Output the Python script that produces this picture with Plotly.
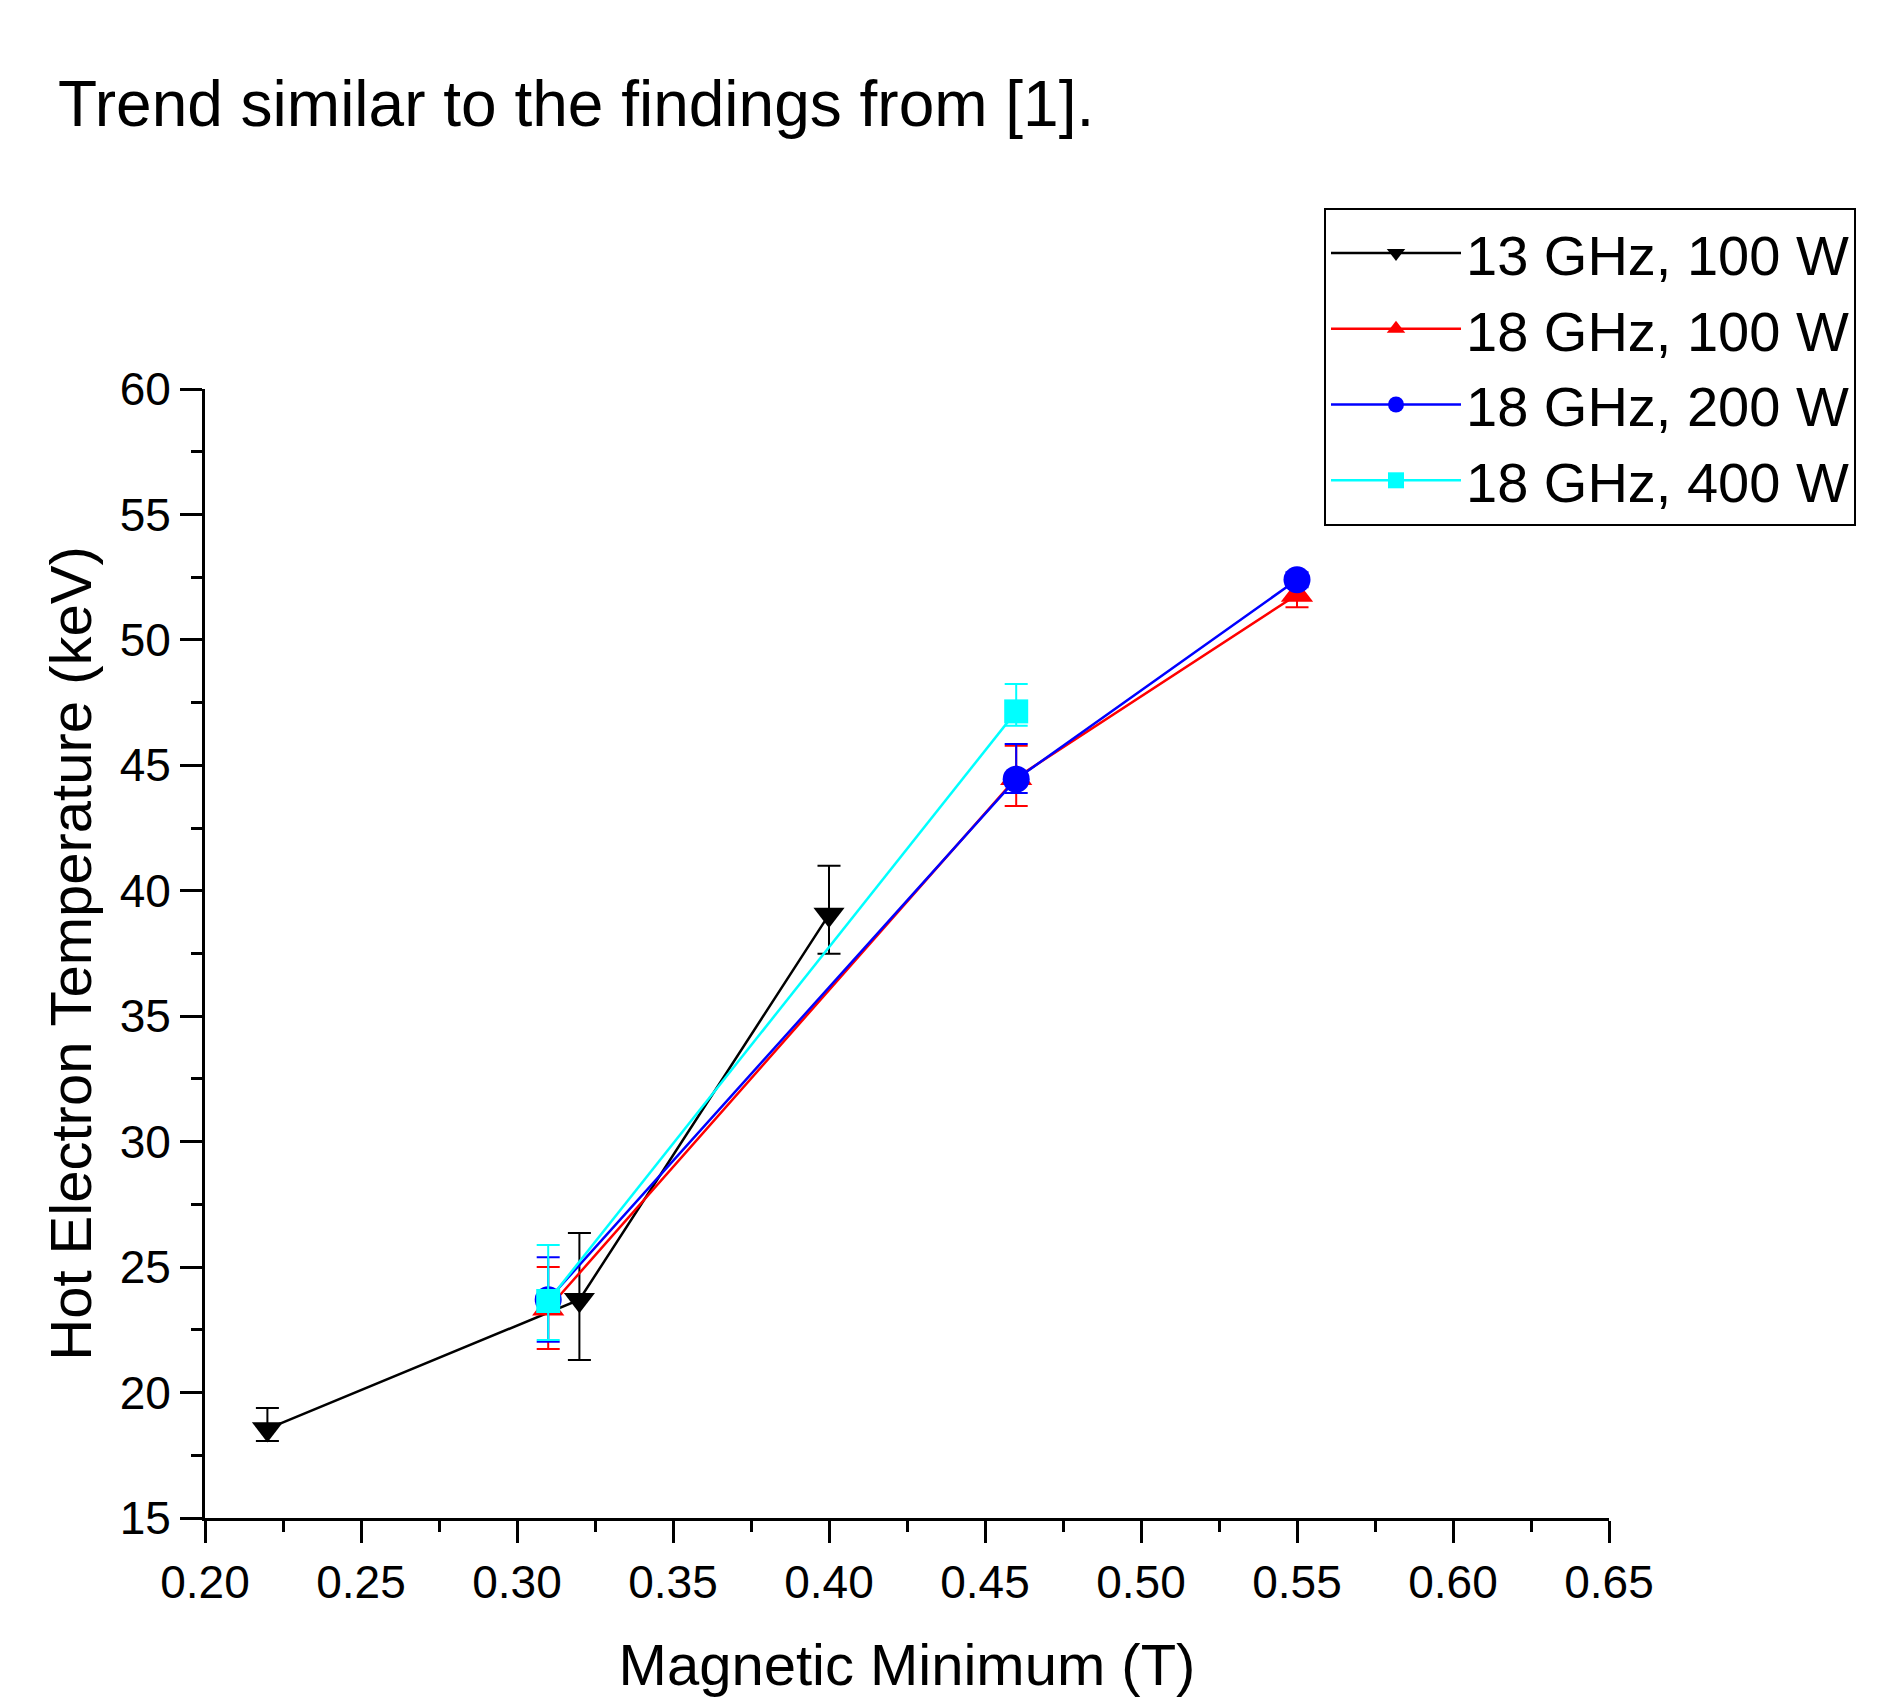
import plotly.graph_objects as go

# ---- data ----
series_names = ["13 GHz, 100 W", "18 GHz, 100 W", "18 GHz, 200 W", "18 GHz, 400 W"]

x_13_100 = [0.22, 0.32, 0.40]
y_13_100 = [18.55, 23.7, 39.05]
ep_13_100 = [0.83, 2.66, 1.95]
em_13_100 = [0.48, 2.40, 1.56]

x_18_100 = [0.31, 0.46, 0.55]
y_18_100 = [23.35, 44.5, 51.8]
ep_18_100 = [1.65, 1.28, 0.37]
em_18_100 = [1.61, 1.12, 0.50]

x_18_200 = [0.31, 0.46, 0.55]
y_18_200 = [23.7, 44.45, 52.4]
ep_18_200 = [1.69, 1.40, 0.30]
em_18_200 = [1.67, 0.55, 0.30]

x_18_400 = [0.31, 0.46]
y_18_400 = [23.65, 47.15]
ep_18_400 = [2.23, 1.09]
em_18_400 = [1.56, 0.57]

x_ticks = [0.20, 0.25, 0.30, 0.35, 0.40, 0.45, 0.50, 0.55, 0.60, 0.65]
x_ticklabels = ["0.20", "0.25", "0.30", "0.35", "0.40", "0.45", "0.50", "0.55", "0.60", "0.65"]
y_ticks = [15, 20, 25, 30, 35, 40, 45, 50, 55, 60]

FONT = "Liberation Sans, Arial, sans-serif"

styles = [
    dict(color="black", symbol="triangle-down", size=27),
    dict(color="red", symbol="triangle-up", size=28),
    dict(color="blue", symbol="circle", size=27),
    dict(color="cyan", symbol="square", size=24),
]
data = [
    (x_13_100, y_13_100, ep_13_100, em_13_100),
    (x_18_100, y_18_100, ep_18_100, em_18_100),
    (x_18_200, y_18_200, ep_18_200, em_18_200),
    (x_18_400, y_18_400, ep_18_400, em_18_400),
]

fig = go.Figure()
for name, st, (xs, ys, ep, em) in zip(series_names, styles, data):
    fig.add_trace(go.Scatter(
        x=xs, y=ys, name=name, mode="lines+markers",
        line=dict(color=st["color"], width=2.5),
        marker=dict(color=st["color"], symbol=st["symbol"], size=st["size"], line=dict(width=0)),
        error_y=dict(type="data", symmetric=False, array=ep, arrayminus=em,
                     color=st["color"], thickness=2, width=11.5),
    ))

fig.update_layout(
    width=1896, height=1700,
    margin=dict(l=197, r=295, t=381, b=190, autoexpand=False),
    paper_bgcolor="white", plot_bgcolor="white",
    font=dict(family=FONT, color="black"),
    title=dict(text="Trend similar to the findings from [1].",
               font=dict(size=64, family=FONT, color="black"),
               xref="container", yref="container",
               x=50 / 1896, xanchor="left", y=1 - 95.5 / 1700, yanchor="middle"),
    legend=dict(
        xref="container", yref="container",
        x=1316 / 1896, y=1 - 200 / 1700, xanchor="left", yanchor="top",
        bgcolor="white", bordercolor="black", borderwidth=2,
        font=dict(size=56, family=FONT, color="black"),
        itemwidth=130, tracegroupgap=0,
    ),
    showlegend=True,
)

fig.update_xaxes(
    range=[0.20, 0.65], tickvals=x_ticks, ticktext=x_ticklabels,
    showgrid=False, zeroline=False, automargin=False,
    showline=True, linecolor="black", linewidth=3,
    ticks="outside", ticklen=22, tickwidth=2.5, tickcolor="black",
    minor=dict(ticks="outside", ticklen=11, tickwidth=2.5, tickcolor="black", dtick=0.025, showgrid=False),
    tickfont=dict(size=46, family=FONT, color="black"),
    title=dict(text="Magnetic Minimum (T)", font=dict(size=58, family=FONT, color="black"), standoff=38),
)
fig.update_yaxes(
    range=[15, 60], tickvals=y_ticks,
    showgrid=False, zeroline=False, automargin=False,
    showline=True, linecolor="black", linewidth=3,
    ticks="outside", ticklen=22, tickwidth=2.5, tickcolor="black",
    minor=dict(ticks="outside", ticklen=11, tickwidth=2.5, tickcolor="black", dtick=2.5, showgrid=False),
    tickfont=dict(size=46, family=FONT, color="black"),
    title=dict(text="Hot Electron Temperature (keV)", font=dict(size=58, family=FONT, color="black"), standoff=10),
)

fig.write_html("out.html")
